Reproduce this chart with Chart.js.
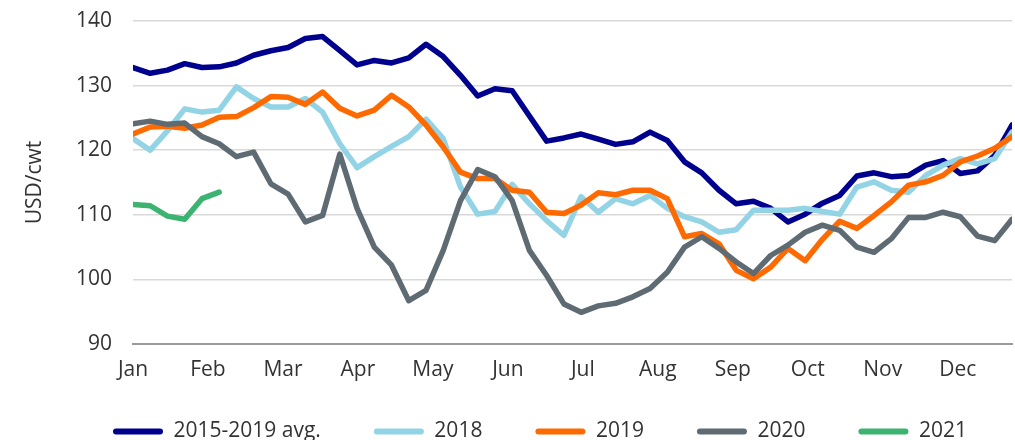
<!DOCTYPE html>
<html>
<head>
<meta charset="utf-8">
<script src="https://cdn.jsdelivr.net/npm/chart.js@4/dist/chart.umd.min.js"></script>
<style>
  html, body { margin: 0; padding: 0; background: #fff; }
</style>
</head>
<body>
<canvas id="milkChart" width="1015" height="440"></canvas>
<script>
// weekly prices, USD/cwt (week 0 = first week of Jan)
const seriesNames = ['2015-2019 avg.', '2018', '2019', '2020', '2021'];

const avg1519 = [132.8, 131.9, 132.4, 133.4, 132.8, 132.9, 133.5, 134.7, 135.4, 135.9, 137.3, 137.6, 135.4, 133.2,
    133.9, 133.5, 134.3, 136.4, 134.5, 131.6, 128.4, 129.5, 129.2, 125.3, 121.4, 121.9, 122.5, 121.7,
    120.9, 121.3, 122.8, 121.5, 118.2, 116.5, 113.8, 111.7, 112.1, 111.0, 108.9, 110.1, 111.8, 113.0,
    116.0, 116.5, 115.9, 116.1, 117.7, 118.4, 116.4, 116.8, 119.2, 123.9];

const y2018 = [121.8, 120.0, 123.0, 126.4, 125.9, 126.2, 129.8, 128.0, 126.7, 126.7, 128.0, 125.9, 121.0, 117.3,
    119.0, 120.6, 122.1, 124.8, 121.8, 114.3, 110.1, 110.5, 114.7, 111.7, 109.1, 106.8, 112.8, 110.4,
    112.5, 111.7, 113.0, 111.0, 109.7, 108.9, 107.3, 107.7, 110.7, 110.7, 110.7, 111.0, 110.5, 110.1,
    114.3, 115.1, 113.8, 113.5, 116.1, 117.7, 118.7, 117.9, 118.7, 122.8];

const y2019 = [122.5, 123.6, 123.7, 123.4, 123.9, 125.1, 125.2, 126.6, 128.3, 128.2, 127.1, 129.0, 126.5, 125.3,
    126.2, 128.5, 126.7, 123.9, 120.5, 116.6, 115.6, 115.6, 113.8, 113.5, 110.4, 110.2, 111.5, 113.4,
    113.1, 113.8, 113.8, 112.5, 106.6, 107.1, 105.5, 101.4, 100.1, 101.9, 104.8, 102.9, 106.2, 109.0,
    107.9, 109.9, 112.0, 114.6, 115.1, 116.1, 118.2, 119.1, 120.3, 122.1];

const y2020 = [124.1, 124.5, 124.0, 124.2, 122.1, 121.0, 119.0, 119.7, 114.8, 113.2, 108.9, 109.9, 119.4, 111.0,
    105.0, 102.2, 96.7, 98.3, 104.5, 112.2, 117.0, 115.9, 112.2, 104.5, 100.6, 96.2, 94.9, 95.9,
    96.3, 97.3, 98.6, 101.1, 105.0, 106.6, 104.8, 102.7, 100.9, 103.7, 105.3, 107.3, 108.4, 107.6,
    105.0, 104.2, 106.3, 109.6, 109.6, 110.4, 109.7, 106.7, 106.0, 109.3];

const y2021 = [111.6, 111.4, 109.8, 109.3, 112.5, 113.5];

const monthLabels = ['Jan', 'Feb', 'Mar', 'Apr', 'May', 'Jun', 'Jul', 'Aug', 'Sep', 'Oct', 'Nov', 'Dec'];
const yTicks = [90, 100, 110, 120, 130, 140];
const weeksPerMonth = 4.35;

const colors = ['#00008f', '#93d3e6', '#ff6a00', '#5f6b73', '#3cb371'];
const allSeries = [avg1519, y2018, y2019, y2020, y2021];

const toPoints = (arr) => arr.map((v, i) => ({ x: i, y: v }));

const textColor = '#333333';
const fontFamily = '"Open Sans", "Noto Sans", sans-serif';

// nudge the legend row into place (chart.js ties legend row spacing to its vertical padding)
const legendNudge = {
    id: 'legendNudge',
    afterLayout(chart) {
        const lg = chart.legend;
        lg.left += 34; lg.right += 34;
        lg.top -= 20; lg.bottom -= 20;
    }
};

const ctx = document.getElementById('milkChart');
new Chart(ctx, {
    type: 'line',
    data: {
        datasets: allSeries.map((arr, i) => ({
            label: seriesNames[i],
            data: toPoints(arr),
            borderColor: colors[i],
            backgroundColor: colors[i],
            borderWidth: 5.5,
            pointRadius: 0,
            tension: 0,
            borderCapStyle: 'round',
            borderJoinStyle: 'round',
            fill: false,
            order: allSeries.length - i
        }))
    },
    plugins: [legendNudge],
    options: {
        responsive: false,
        animation: false,
        devicePixelRatio: 1,
        layout: { padding: { left: 0, right: 3, top: 21, bottom: -32 } },
        plugins: {
            tooltip: { enabled: false },
            legend: {
                position: 'bottom',
                labels: {
                    font: { family: fontFamily, size: 21 },
                    color: textColor,
                    boxWidth: 50,
                    boxHeight: 6,
                    useBorderRadius: true,
                    borderRadius: 3,
                    padding: 53,
                    generateLabels: (chart) => Chart.defaults.plugins.legend.labels.generateLabels(chart)
                        .map(l => ({ ...l, lineWidth: 0, strokeStyle: 'rgba(0,0,0,0)' }))
                        .sort((a, b) => a.datasetIndex - b.datasetIndex)
                }
            }
        },
        scales: {
            x: {
                type: 'linear',
                min: 0,
                max: allSeries[0].length - 1,
                afterBuildTicks: (s) => { s.ticks = monthLabels.map((m, i) => ({ value: i * weeksPerMonth })); },
                afterFit: (s) => { s.height = 44; },
                grid: { display: false, drawTicks: false },
                border: { display: true, color: '#9a9a9a', width: 2 },
                ticks: {
                    autoSkip: false,
                    maxRotation: 0,
                    padding: 13,
                    color: textColor,
                    font: { family: fontFamily, size: 21 },
                    callback: (value, index) => monthLabels[index]
                }
            },
            y: {
                min: 90,
                max: 140,
                afterBuildTicks: (s) => { s.ticks = yTicks.map(v => ({ value: v })); },
                afterFit: (s) => { s.width = 133; s.paddingTop = 0; s.paddingBottom = 0; },
                grid: { color: '#d9d9d9', lineWidth: 1.5, drawTicks: false },
                border: { display: false },
                ticks: {
                    padding: 21,
                    color: textColor,
                    font: { family: fontFamily, size: 21 }
                },
                title: {
                    display: true,
                    text: 'USD/cwt',
                    color: textColor,
                    font: { family: fontFamily, size: 21 },
                    padding: { top: 22, bottom: 0 }
                }
            }
        }
    }
});
</script>
</body>
</html>
